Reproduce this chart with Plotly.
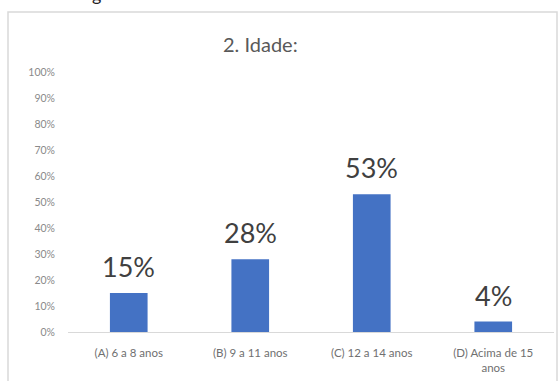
import plotly.graph_objects as go

categories = ["(A) 6 a 8 anos", "(B) 9 a 11 anos", "(C) 12 a 14 anos", "(D) Acima de 15<br>anos"]
values = [0.15, 0.28, 0.53, 0.04]
labels = ["15%", "28%", "53%", "4%"]
title_text = "2. Idade:"
tick_vals = [i / 10 for i in range(11)]
tick_text = [f"{i*10}%" for i in range(11)]

W, H = 560, 381
L, R, T, B = 68, 6, 72, 49
pw = W - L - R
ph = H - T - B

def px(x):
    return (x - L) / pw

def py(y):
    return (H - B - y) / ph

fig = go.Figure()
fig.add_trace(go.Bar(
    x=categories, y=values,
    marker=dict(color="#4472C4", line=dict(width=0)),
    hoverinfo="skip",
))

annotations = [
    dict(text=lab, x=cat, y=val, xref="x", yref="y",
         xanchor="center", yanchor="bottom", yshift=8, showarrow=False,
         font=dict(size=27, color="#404040", family="Lato"))
    for cat, val, lab in zip(categories, values, labels)
]
annotations += [
    dict(text=title_text, xref="paper", yref="paper", x=px(260), y=py(44),
         xanchor="center", yanchor="middle", showarrow=False,
         font=dict(size=20, color="#595959", family="Lato")),
    dict(text="g", xref="paper", yref="paper", x=px(96), y=py(-6),
         xanchor="center", yanchor="middle", showarrow=False,
         font=dict(size=18, color="#222222", family="Lato")),
]

fig.update_layout(
    width=W, height=H,
    margin=dict(l=L, r=R, t=T, b=B),
    paper_bgcolor="white", plot_bgcolor="white",
    showlegend=False,
    bargap=0.69,
    font=dict(family="Lato", color="#777777"),
    xaxis=dict(
        showline=True, linecolor="#D9D9D9", linewidth=1,
        ticks="", tickfont=dict(size=11.5, color="#707070"),
        showgrid=False, ticklabelstandoff=10,
    ),
    yaxis=dict(
        range=[0, 1], tickvals=tick_vals, ticktext=tick_text,
        tickfont=dict(size=10.5, color="#8a8a8a"),
        showgrid=False, zeroline=False, showline=False,
        ticks="", ticklabelstandoff=12,
    ),
    shapes=[dict(
        type="rect", xref="paper", yref="paper",
        x0=px(8), x1=px(557), y0=py(400), y1=py(12),
        line=dict(color="#D9D9D9", width=1.5), fillcolor="rgba(0,0,0,0)", layer="below",
    )],
    annotations=annotations,
)

fig.write_html("out.html")
